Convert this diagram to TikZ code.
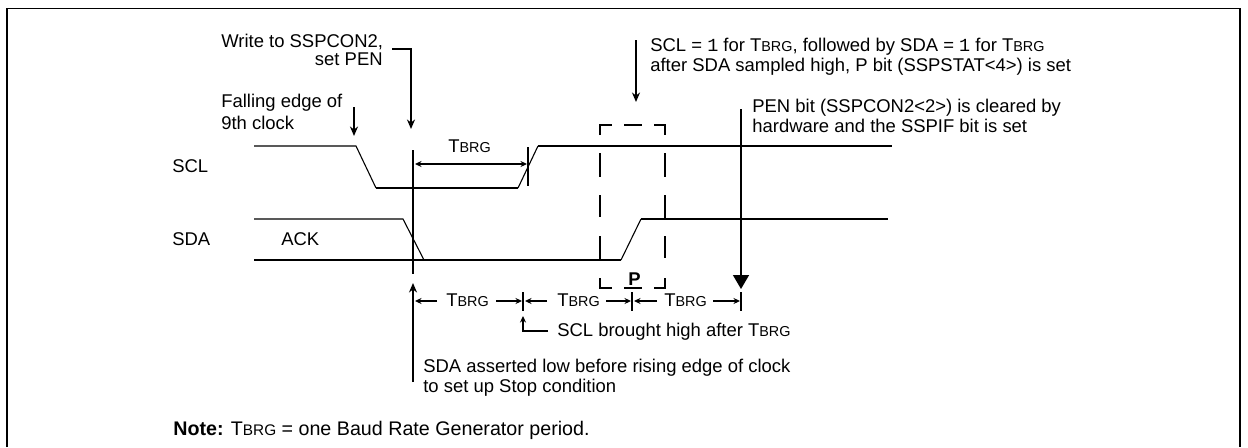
\documentclass[tikz,border=0pt]{standalone}
\usepackage{fontspec}
\setmainfont{Liberation Sans}
\setmonofont{Liberation Mono}
\usepackage{tikz}
\usetikzlibrary{arrows.meta}
\newcommand{\Tbrg}{T{\fontsize{0.78em}{1em}\selectfont BRG}}
\tikzset{
  sigline/.style  = {line width=0.85pt},
  thinline/.style = {line width=0.62pt},
  callarr/.style  = {-{Stealth[length=1.9mm,width=1.6mm]},line width=0.8pt},
  dimarr/.style   = {{Stealth[length=1.3mm,width=1.2mm]}-{Stealth[length=1.3mm,width=1.2mm]},line width=0.8pt},
  halfarr/.style  = {-{Stealth[length=1.3mm,width=1.2mm]},line width=0.8pt},
  marker/.style   = {line width=0.85pt},
  lbl/.style      = {font=\fontsize{10.5pt}{12pt}\selectfont,inner sep=0pt,anchor=base west}
}
\begin{document}
\begin{tikzpicture}[x=0.02cm,y=-0.02cm]
  \useasboundingbox (0,0) rectangle (1248,447);
  % frame
  \draw[line width=1.1pt] (7,447) -- (7,8.5) -- (1240,8.5) -- (1240,447);
  % signals
  \draw[thinline] (254,146) -- (356,146) -- (376,188);
  \draw[sigline] (376,188) -- (518,188);
  \draw[thinline] (518,188) -- (538,146);
  \draw[sigline] (538,146) -- (892,146);
  \draw[thinline] (254,219) -- (403,219) -- (424,260);
  \draw[sigline] (254,260) -- (621,260);
  \draw[thinline] (621,260) -- (641,219);
  \draw[sigline] (641,219) -- (888,219);
  % labels
  \node[lbl] (scl) at (172,172) {SCL};
  \node[lbl] (sda) at (172,245) {SDA};
  \node[lbl] (ack) at (281,245) {ACK};
  \node[lbl] (write1) at (221,47) {Write to SSPCON2,};
  \node[lbl,anchor=base east] (write2) at (383,65) {set PEN};
  \node[lbl] (fall) at (221,107) {Falling edge of};
  \node[lbl] (clk) at (221,129) {9th clock};
  \node[lbl] (tb0) at (448,152) {\Tbrg};
  \node[lbl] (scl1) at (650,51) {SCL = {\ttfamily 1} for \Tbrg, followed by SDA = {\ttfamily 1} for \Tbrg};
  \node[lbl] (scl2) at (650,71) {after SDA sampled high, P bit (SSPSTAT<4>) is set};
  \node[lbl] (pen1) at (752,112) {PEN bit (SSPCON2<2>) is cleared by};
  \node[lbl] (pen2) at (752,132) {hardware and the SSPIF bit is set};
  \node[lbl,font=\fontsize{10.5pt}{12pt}\selectfont\bfseries] (p) at (628,285) {P};
  \node[lbl] (tb1) at (446,306) {\Tbrg};
  \node[lbl] (tb2) at (557,306) {\Tbrg};
  \node[lbl] (tb3) at (664,306) {\Tbrg};
  \node[lbl] (high) at (557,336) {SCL brought high after \Tbrg};
  \node[lbl] (low1) at (423,372) {SDA asserted low before rising edge of clock};
  \node[lbl] (low2) at (423,392) {to set up Stop condition};
  \node[lbl,font=\fontsize{11.2pt}{13pt}\selectfont] (note) at (173,435) {\textbf{Note:} \Tbrg{} = one Baud Rate Generator period.};
  % callouts
  \coordinate (wr) at (392,49);
  \coordinate (wrc) at (411,49);
  \coordinate (wrt) at (411,129);
  \draw[callarr] (wr) -- (wrc) -- (wrt);
  \coordinate (fa) at (354,107);
  \coordinate (fat) at (354,136);
  \draw[callarr] (fa) -- (fat);
  \coordinate (sc) at (636,40);
  \coordinate (sct) at (636,102);
  \draw[callarr] (sc) -- (sct);
  % timing marks
  \coordinate (mk1a) at (413,150);
  \coordinate (mk1b) at (413,274);
  \draw[marker] (mk1a) -- (mk1b);
  \coordinate (mk2a) at (528,147);
  \coordinate (mk2b) at (528,186);
  \draw[marker] (mk2a) -- (mk2b);
  \coordinate (d0a) at (415,164);
  \coordinate (d0b) at (527,164);
  \draw[dimarr] (d0a) -- (d0b);
  % stop box
  \draw[marker] (600,135) -- (600,125) -- (612,125) (624,125) -- (642,125) (654,125) -- (665,125) -- (665,135);
  \draw[marker] (600,153) -- (600,177) (600,195) -- (600,217) (600,236) -- (600,260) (600,278) -- (600,288) -- (612,288);
  \draw[marker] (665,153) -- (665,177) (665,195) -- (665,219) (665,236) -- (665,258) (665,278) -- (665,288) -- (654,288);
  \draw[marker] (624,288) -- (642,288);
  % PEN arrow
  \coordinate (pa) at (741,109);
  \coordinate (pb) at (741,289);
  \draw[line width=0.85pt,-{Triangle[length=2.8mm,width=3.2mm]}] (pa) -- (pb);
  % lower dimension line
  \coordinate (up0) at (413,382);
  \coordinate (up1) at (413,283);
  \draw[callarr] (up0) -- (up1);
  \foreach \x/\nm in {523/t1,632/t2,741/t3} {
    \coordinate (\nm a) at (\x,292);
    \coordinate (\nm b) at (\x,311);
    \draw[marker] (\nm a) -- (\nm b);
  }
  \draw[halfarr] (437,301) -- (415,301);
  \draw[halfarr] (496,301) -- (522,301);
  \draw[halfarr] (547,301) -- (525,301);
  \draw[halfarr] (606,301) -- (631,301);
  \draw[halfarr] (657,301) -- (634,301);
  \draw[halfarr] (713,301) -- (740,301);
  \coordinate (hi) at (548,331);
  \coordinate (hic) at (523,331);
  \coordinate (hit) at (523,316);
  \draw[halfarr] (hi) -- (hic) -- (hit);
\end{tikzpicture}
\end{document}
